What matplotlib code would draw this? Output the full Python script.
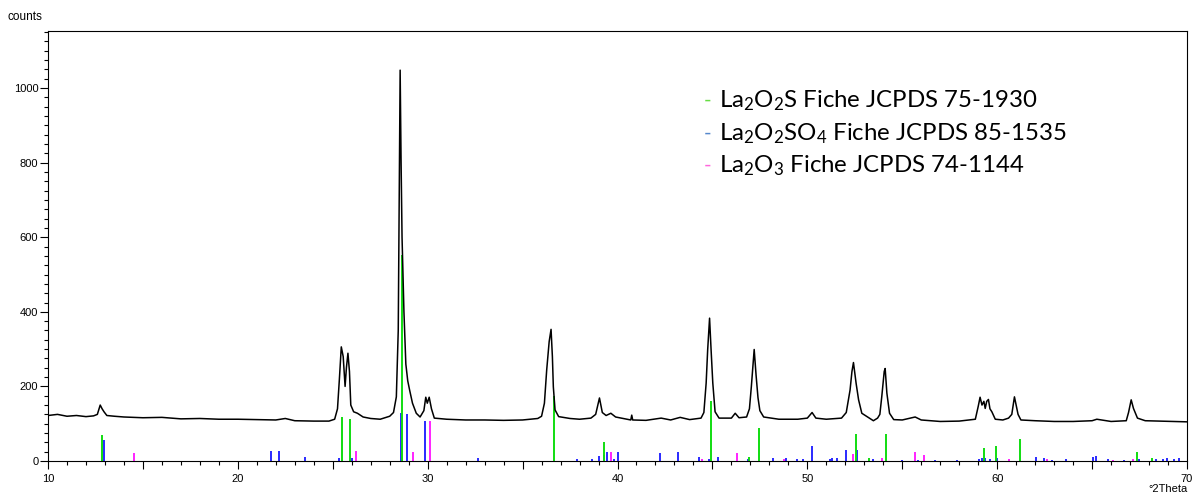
import numpy as np
import matplotlib.pyplot as plt
from matplotlib.ticker import MultipleLocator, FuncFormatter

# diffractogram, (2theta, counts)
two_theta = [10.0, 10.5, 11.0, 11.5, 12.0, 12.4, 12.6, 12.75, 12.85, 12.95, 13.1, 13.5, 14.0,
             15.0, 16.0, 17.0, 18.0, 19.0, 20.0, 21.0, 22.0, 22.5, 23.0, 24.0, 24.8,
             25.1, 25.25, 25.35, 25.45, 25.55, 25.65, 25.72, 25.8, 25.88, 25.95, 26.1, 26.3,
             26.6, 27.0, 27.5, 28.0, 28.2, 28.35, 28.45, 28.5, 28.55, 28.6, 28.65, 28.75,
             28.85, 28.95, 29.05, 29.2, 29.4, 29.6, 29.8, 29.9, 29.98, 30.08, 30.2, 30.35,
             31.0, 32.0, 33.0, 34.0, 35.0, 35.8, 36.0, 36.15, 36.27, 36.4, 36.5, 36.57,
             36.62, 36.71, 36.9, 37.5, 38.0, 38.6, 38.85, 39.05, 39.2, 39.4, 39.65, 39.9,
             40.5, 40.7, 40.75, 40.8, 41.5, 42.3, 42.8, 43.3, 43.8, 44.4, 44.55, 44.67,
             44.75, 44.85, 44.93, 45.02, 45.14, 45.35, 46.0, 46.2, 46.4, 46.8, 46.95, 47.05,
             47.2, 47.3, 47.4, 47.5, 47.7, 48.5, 49.5, 50.0, 50.25, 50.45, 51.0, 51.8,
             52.05, 52.25, 52.35, 52.43, 52.5, 52.57, 52.7, 52.87, 53.2, 53.48, 53.7, 53.82,
             53.92, 54.05, 54.1, 54.19, 54.33, 54.55, 55.0, 55.68, 56.0, 57.0, 58.0, 58.85,
             59.0, 59.1, 59.2, 59.3, 59.37, 59.45, 59.54, 59.62, 59.72, 59.9, 60.3, 60.6,
             60.77, 60.91, 61.0, 61.1, 61.25, 62.0, 63.0, 64.0, 65.0, 65.25, 66.0, 66.8,
             66.92, 67.06, 67.18, 67.39, 67.8, 68.5, 69.0, 70.0]
counts = [122, 125, 120, 122, 119, 121, 125, 150, 140, 132, 122, 120, 118,
          116, 117, 113, 114, 112, 112, 111, 110, 114, 108, 107, 107,
          112, 140, 220, 306, 280, 200, 250, 289, 240, 150, 132, 128,
          118, 114, 112, 120, 130, 172, 350, 700, 1048, 800, 600, 400,
          260, 215, 190, 155, 128, 118, 135, 171, 155, 171, 140, 115,
          112, 110, 110, 109, 110, 114, 120, 155, 244, 320, 353, 280,
          199, 137, 119, 114, 112, 115, 125, 169, 130, 122, 128, 118,
          112, 110, 123, 110, 109, 115, 110, 117, 111, 115, 130, 209,
          298, 383, 298, 209, 132, 115, 115, 128, 116, 118, 140, 199,
          299, 230, 170, 135, 118, 112, 112, 115, 130, 115, 112, 115,
          130, 190, 240, 264, 235, 208, 164, 128, 117, 108, 115, 125,
          172, 240, 248, 182, 128, 111, 110, 118, 110, 106, 107, 112,
          146, 171, 150, 160, 141, 160, 165, 140, 132, 112, 110, 115,
          125, 172, 150, 125, 110, 108, 106, 106, 108, 112, 106, 108,
          130, 164, 141, 115, 108, 107, 106, 105]

# La2O2S JCPDS 75-1930 sticks
green_pos = [12.86, 25.5, 25.91, 28.63, 36.68, 39.3, 44.93, 46.93, 47.44, 52.57, 53.24,
             54.14, 59.33, 59.95, 61.18, 67.36, 68.15]
green_h = [70, 117, 112, 552, 174, 52, 161, 11, 89, 72, 7,
           72, 36, 41, 58, 23, 7]

# La2O2SO4 JCPDS 85-1535 sticks
blue_pos = [12.93, 21.77, 22.19, 23.56, 25.33, 26.0, 28.58, 28.93, 29.86, 32.64, 37.85,
            38.64, 39.05, 39.3, 39.47, 39.82, 40.01, 42.25, 43.21, 44.31, 44.84, 45.32,
            46.9, 48.21, 48.86, 49.45, 49.78, 50.24, 51.17, 51.32, 51.55, 52.03, 52.64,
            53.48, 55.01, 55.82, 56.73, 57.88, 59.04, 59.18, 59.38, 59.63, 59.97, 62.03,
            62.48, 62.88, 63.64, 65.03, 65.19, 65.84, 66.66, 67.48, 68.38, 68.73, 68.94,
            69.29, 69.6]
blue_h = [55, 28, 27, 10, 7, 8, 128, 125, 106, 8, 5,
          6, 13, 16, 23, 6, 24, 21, 24, 11, 6, 10,
          5, 7, 7, 5, 5, 40, 6, 7, 7, 30, 30,
          5, 3, 3, 3, 3, 5, 9, 7, 5, 7, 11,
          7, 3, 5, 10, 13, 5, 3, 5, 5, 6, 7,
          5, 7]

# La2O3 JCPDS 74-1144 sticks
pink_pos = [14.51, 26.24, 29.25, 30.13, 39.66, 44.47, 46.28, 48.78, 52.38, 53.94, 55.66,
            56.17, 60.6, 62.62, 66.08, 67.16]
pink_h = [22, 28, 24, 108, 23, 5, 21, 5, 20, 7, 23,
          16, 5, 5, 3, 5]

legend_lines = [r'La$_2$O$_2$S Fiche JCPDS 75-1930',
                r'La$_2$O$_2$SO$_4$ Fiche JCPDS 85-1535',
                r'La$_2$O$_3$ Fiche JCPDS 74-1144']
legend_colors = ['#66dd44', '#5588cc', '#ff66dd']

plt.rcParams['font.family'] = ['Liberation Sans', 'DejaVu Sans']
plt.rcParams['mathtext.fontset'] = 'custom'
plt.rcParams['mathtext.rm'] = 'Lato'
plt.rcParams['mathtext.default'] = 'rm'

fig = plt.figure(figsize=(12.02, 5.0), dpi=100)
ax = fig.add_axes([48/1202, 39/500, 1139/1202, 430/500])

ax.vlines(blue_pos, 0, blue_h, colors='#2a2aff', lw=1.4)
ax.vlines(green_pos, 0, green_h, colors='#11dd11', lw=1.4)
ax.vlines(pink_pos, 0, pink_h, colors='#ff22ff', lw=1.4)
ax.plot(two_theta, counts, color='black', lw=1.1)

ax.set_xlim(10, 70)
ax.set_ylim(0, 1153)

# ticks: labels every 10, longer tick at 5, small ones every 1
ax.xaxis.set_major_locator(MultipleLocator(5))
ax.xaxis.set_minor_locator(MultipleLocator(1))
ax.xaxis.set_major_formatter(FuncFormatter(lambda v, p: '%d' % v if v % 10 == 0 else ''))
ax.yaxis.set_major_locator(MultipleLocator(200))
ax.yaxis.set_minor_locator(MultipleLocator(25))
ax.tick_params(which='major', direction='out', length=6, width=0.8, labelsize=8, pad=1)
ax.tick_params(which='minor', direction='out', length=3, width=0.8)
ax.tick_params(axis='x', which='major', pad=3)

for s in ax.spines.values():
    s.set_linewidth(0.8)

fig.text(8/1202, 1 - 17/500, 'counts', fontsize=8.5, va='center', ha='left')
fig.text(1188/1202, 1 - 489/500, '°2Theta', fontsize=8, va='center', ha='right')

# legend drawn as text lines with a small coloured dash
for i in range(3):
    yy = 1 - (101 + 32.5*i)/500
    fig.text(704/1202, yy, '-', color=legend_colors[i], fontsize=15, family='Lato',
             va='center', ha='left')
    fig.text(719/1202, yy, legend_lines[i], color='black', fontsize=17.3, family='Lato',
             va='center', ha='left')

fig.savefig('out.png', dpi=100)
